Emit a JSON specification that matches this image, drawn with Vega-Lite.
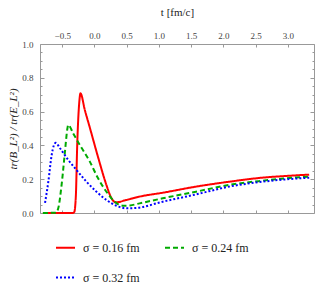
{
  "$schema": "https://vega.github.io/schema/vega-lite/v6.json",
  "width": 274,
  "height": 169,
  "autosize": "none",
  "padding": {"left": 40, "top": 44, "right": 2, "bottom": 79},
  "config": {
    "view": {"stroke": "#999999", "strokeWidth": 1},
    "font": "Liberation Serif",
    "axis": {
      "domain": false,
      "grid": false,
      "labelFont": "Liberation Serif",
      "labelFontSize": 9,
      "labelColor": "#444444",
      "tickColor": "#999999",
      "titleFont": "Liberation Serif",
      "titleFontWeight": "normal",
      "titleColor": "#222222"
    }
  },
  "data": {
    "values": [
      {"t": -0.8, "v": 0, "s": "σ = 0.16 fm"},
      {"t": -0.5, "v": 0, "s": "σ = 0.16 fm"},
      {"t": -0.34, "v": 0, "s": "σ = 0.16 fm"},
      {"t": -0.314, "v": 0.005, "s": "σ = 0.16 fm"},
      {"t": -0.289, "v": 0.1, "s": "σ = 0.16 fm"},
      {"t": -0.268, "v": 0.4, "s": "σ = 0.16 fm"},
      {"t": -0.237, "v": 0.65, "s": "σ = 0.16 fm"},
      {"t": -0.217, "v": 0.708, "s": "σ = 0.16 fm"},
      {"t": -0.15, "v": 0.61, "s": "σ = 0.16 fm"},
      {"t": -0.072, "v": 0.505, "s": "σ = 0.16 fm"},
      {"t": 0.056, "v": 0.33, "s": "σ = 0.16 fm"},
      {"t": 0.185, "v": 0.166, "s": "σ = 0.16 fm"},
      {"t": 0.26, "v": 0.09, "s": "σ = 0.16 fm"},
      {"t": 0.33, "v": 0.063, "s": "σ = 0.16 fm"},
      {"t": 0.494, "v": 0.077, "s": "σ = 0.16 fm"},
      {"t": 0.7, "v": 0.097, "s": "σ = 0.16 fm"},
      {"t": 1.059, "v": 0.12, "s": "σ = 0.16 fm"},
      {"t": 1.574, "v": 0.156, "s": "σ = 0.16 fm"},
      {"t": 2.088, "v": 0.185, "s": "σ = 0.16 fm"},
      {"t": 2.602, "v": 0.209, "s": "σ = 0.16 fm"},
      {"t": 2.963, "v": 0.219, "s": "σ = 0.16 fm"},
      {"t": 3.33, "v": 0.227, "s": "σ = 0.16 fm"},
      {"t": -0.8, "v": 0, "s": "σ = 0.24 fm"},
      {"t": -0.6, "v": 0.002, "s": "σ = 0.24 fm"},
      {"t": -0.562, "v": 0.028, "s": "σ = 0.24 fm"},
      {"t": -0.51, "v": 0.166, "s": "σ = 0.24 fm"},
      {"t": -0.458, "v": 0.363, "s": "σ = 0.24 fm"},
      {"t": -0.42, "v": 0.5, "s": "σ = 0.24 fm"},
      {"t": -0.407, "v": 0.521, "s": "σ = 0.24 fm"},
      {"t": -0.33, "v": 0.471, "s": "σ = 0.24 fm"},
      {"t": -0.227, "v": 0.402, "s": "σ = 0.24 fm"},
      {"t": -0.072, "v": 0.304, "s": "σ = 0.24 fm"},
      {"t": 0.056, "v": 0.205, "s": "σ = 0.24 fm"},
      {"t": 0.185, "v": 0.126, "s": "σ = 0.24 fm"},
      {"t": 0.313, "v": 0.067, "s": "σ = 0.24 fm"},
      {"t": 0.441, "v": 0.043, "s": "σ = 0.24 fm"},
      {"t": 0.55, "v": 0.045, "s": "σ = 0.24 fm"},
      {"t": 0.7, "v": 0.057, "s": "σ = 0.24 fm"},
      {"t": 1.059, "v": 0.087, "s": "σ = 0.24 fm"},
      {"t": 1.574, "v": 0.126, "s": "σ = 0.24 fm"},
      {"t": 2.088, "v": 0.166, "s": "σ = 0.24 fm"},
      {"t": 2.602, "v": 0.191, "s": "σ = 0.24 fm"},
      {"t": 2.963, "v": 0.205, "s": "σ = 0.24 fm"},
      {"t": 3.33, "v": 0.215, "s": "σ = 0.24 fm"},
      {"t": -0.767, "v": 0.06, "s": "σ = 0.32 fm"},
      {"t": -0.716, "v": 0.185, "s": "σ = 0.32 fm"},
      {"t": -0.664, "v": 0.343, "s": "σ = 0.32 fm"},
      {"t": -0.63, "v": 0.4, "s": "σ = 0.32 fm"},
      {"t": -0.6, "v": 0.415, "s": "σ = 0.32 fm"},
      {"t": -0.535, "v": 0.383, "s": "σ = 0.32 fm"},
      {"t": -0.407, "v": 0.314, "s": "σ = 0.32 fm"},
      {"t": -0.278, "v": 0.254, "s": "σ = 0.32 fm"},
      {"t": -0.124, "v": 0.185, "s": "σ = 0.32 fm"},
      {"t": 0.031, "v": 0.126, "s": "σ = 0.32 fm"},
      {"t": 0.185, "v": 0.077, "s": "σ = 0.32 fm"},
      {"t": 0.339, "v": 0.043, "s": "σ = 0.32 fm"},
      {"t": 0.494, "v": 0.028, "s": "σ = 0.32 fm"},
      {"t": 0.648, "v": 0.03, "s": "σ = 0.32 fm"},
      {"t": 1.059, "v": 0.067, "s": "σ = 0.32 fm"},
      {"t": 1.574, "v": 0.11, "s": "σ = 0.32 fm"},
      {"t": 2.088, "v": 0.156, "s": "σ = 0.32 fm"},
      {"t": 2.602, "v": 0.185, "s": "σ = 0.32 fm"},
      {"t": 2.963, "v": 0.199, "s": "σ = 0.32 fm"},
      {"t": 3.33, "v": 0.209, "s": "σ = 0.32 fm"}
    ]
  },
  "layer": [
    {
      "mark": {"type": "line", "strokeWidth": 2, "interpolate": "monotone"},
      "encoding": {
        "x": {
          "field": "t", "type": "quantitative",
          "scale": {"domain": [-0.845, 3.405], "nice": false, "zero": false},
          "axis": {
            "orient": "top", "title": "t [fm/c]", "titleFontSize": 11, "titlePadding": 14,
            "values": [-0.5, 0, 0.5, 1, 1.5, 2, 2.5, 3], "format": ".1f",
            "tickSize": -3, "labelPadding": 7
          }
        },
        "y": {
          "field": "v", "type": "quantitative",
          "scale": {"domain": [0, 1], "nice": false},
          "axis": {
            "orient": "left", "title": "tr(B_L²) / tr(E_L²)", "titleFontSize": 11,
            "titleFontStyle": "italic", "titlePadding": 3,
            "values": [0, 0.2, 0.4, 0.6, 0.8, 1], "format": ".1f",
            "tickSize": -4, "labelPadding": 11
          }
        },
        "color": {
          "field": "s", "type": "nominal",
          "scale": {"domain": ["σ = 0.16 fm", "σ = 0.24 fm", "σ = 0.32 fm"], "range": ["#ff0000", "#00aa00", "#0000ff"]},
          "legend": {
            "orient": "none", "legendX": 15, "legendY": 193, "columns": 2, "direction": "horizontal", "title": null,
            "symbolType": "stroke", "symbolSize": 361, "symbolStrokeWidth": 2,
            "labelFont": "Liberation Serif", "labelFontSize": 12, "labelColor": "#222222",
            "labelOffset": 7, "columnPadding": 21, "rowPadding": 13
          }
        },
        "strokeDash": {
          "field": "s", "type": "nominal",
          "scale": {"domain": ["σ = 0.16 fm", "σ = 0.24 fm", "σ = 0.32 fm"], "range": [[1, 0], [5, 3], [2, 2]]},
          "legend": {
            "orient": "none", "legendX": 15, "legendY": 193, "columns": 2, "direction": "horizontal", "title": null,
            "symbolType": "stroke", "symbolSize": 361, "symbolStrokeWidth": 2,
            "labelFont": "Liberation Serif", "labelFontSize": 12, "labelColor": "#222222",
            "labelOffset": 7, "columnPadding": 21, "rowPadding": 13
          }
        }
      }
    },
    {
      "mark": {"type": "point", "opacity": 0},
      "encoding": {
        "x": {"field": "t", "type": "quantitative",
          "axis": {"orient": "bottom", "labels": false, "title": null, "values": [-0.5, 0, 0.5, 1, 1.5, 2, 2.5, 3], "tickSize": -3}},
        "y": {"field": "v", "type": "quantitative",
          "axis": {"orient": "right", "labels": false, "title": null, "values": [0, 0.2, 0.4, 0.6, 0.8, 1], "tickSize": -4}}
      }
    },
    {
      "mark": {"type": "point", "opacity": 0},
      "encoding": {
        "x": {"field": "t", "type": "quantitative", "axis": null},
        "y": {"field": "v", "type": "quantitative",
          "axis": {"orient": "left", "labels": false, "title": null, "values": [0.05, 0.1, 0.15, 0.25, 0.3, 0.35, 0.45, 0.5, 0.55, 0.65, 0.7, 0.75, 0.85, 0.9, 0.95], "tickSize": -2}}
      }
    },
    {
      "mark": {"type": "point", "opacity": 0},
      "encoding": {
        "x": {"field": "t", "type": "quantitative", "axis": null},
        "y": {"field": "v", "type": "quantitative",
          "axis": {"orient": "right", "labels": false, "title": null, "values": [0.05, 0.1, 0.15, 0.25, 0.3, 0.35, 0.45, 0.5, 0.55, 0.65, 0.7, 0.75, 0.85, 0.9, 0.95], "tickSize": -2}}
      }
    }
  ],
  "resolve": {"axis": {"x": "independent", "y": "independent"}}
}
